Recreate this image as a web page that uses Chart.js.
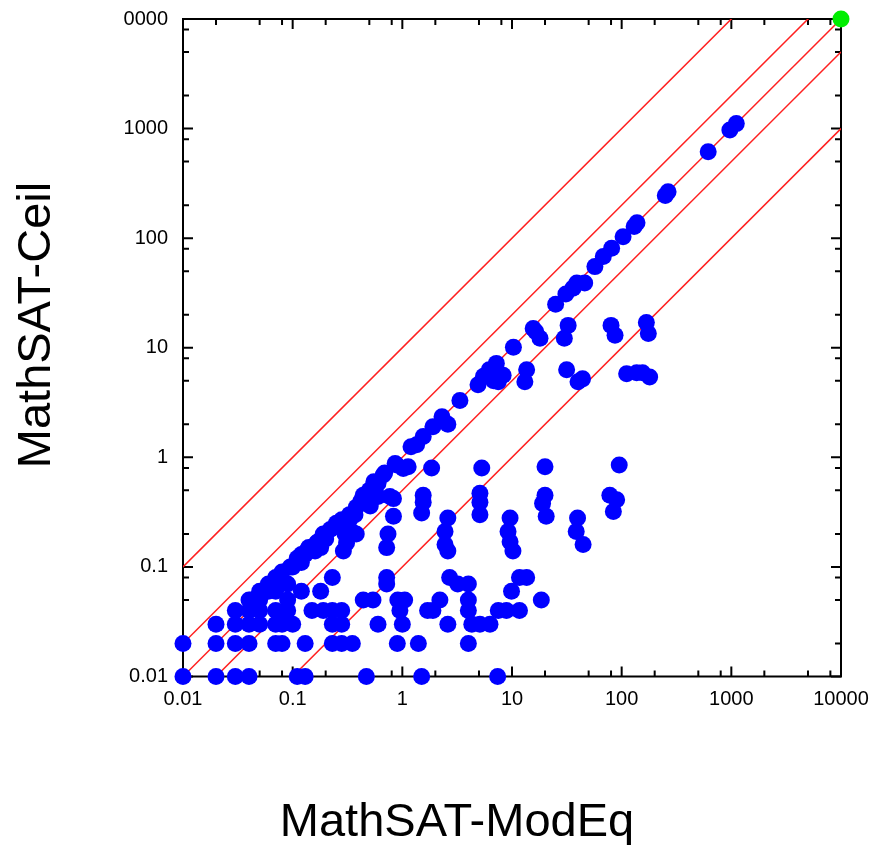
<!DOCTYPE html>
<html><head><meta charset="utf-8">
<script src="https://cdn.jsdelivr.net/npm/chart.js@4.4.1/dist/chart.umd.min.js"></script>
<style>html,body{margin:0;padding:0;background:#fff;overflow:hidden}canvas{display:block}</style>
</head><body>
<canvas id="c" width="876" height="845"></canvas>
<script>
const xTitle = 'MathSAT-ModEq';
const yTitle = 'MathSAT-Ceil';
const majorTicks = [0.01, 0.1, 1, 10, 100, 1000, 10000];
const xTickLabels = ['0.01', '0.1', '1', '10', '100', '1000', '10000'];
const yTickLabels = ['0.01', '0.1', '1', '10', '100', '1000', '0000'];
const minorMultipliers = [2, 5, 8];
const refFactors = [10, 2, 1, 0.5, 0.1];

// solved instances: time with ModEq (x) vs time with Ceil (y), seconds
const modEqTime = [
  0.01,0.02,0.03,0.04,0.11,0.13,0.47,1.5,7.4,
  0.01,0.02,0.03,0.04,0.07,0.08,0.13,0.23,0.28,0.35,0.9,1.4,4.0,
  0.02,0.03,0.04,0.05,0.07,0.08,0.1,0.23,0.28,0.6,1.0,2.6,4.3,5.1,6.3,
  0.03,0.04,0.05,0.07,0.09,0.15,0.19,0.23,0.28,0.95,1.7,1.9,4.0,7.5,8.9,11.7,
  0.04,0.05,0.09,0.44,0.54,0.91,1.05,2.2,4.0,18.5,
  0.05,0.06,0.07,0.12,0.18,9.9,0.06,0.09,0.72,3.2,4.0,0.07,0.23,0.72,2.7,11.7,13.6,0.08,
  0.095,0.1,0.11,0.12,0.13,0.134,0.16,0.165,0.18,0.19,0.2,0.22,0.25,0.28,0.29,0.3,0.345,0.38,0.74,0.72,
  0.33,0.37,0.38,0.42,0.44,0.51,0.5,0.55,0.77,0.83,0.6,0.67,0.69,0.86,0.89,1.02,1.13,1.2,1.35,1.55,
  1.9,2.3,2.6,3.35,4.9,5.5,6.2,7.2,6.8,8.3,7.5,10.3,13.6,13.1,15.6,16.5,18,25,31,30,
  32.5,31.5,36,39,46,40,44,57,68,81,80,87,103,111,137,130,138,155,168,175,180,250,265,615,970,1110,
  1.55,1.55,1.5,1.85,2.6,2.45,2.45,2.6,5.3,5.1,5.1,5.1,9.6,9.2,9.6,10.2,20,20,19,20.5,39.6,38.5,44.5,95,78,90,84,
  0.042,0.056,0.07,0.12,0.14,0.17,
  0.6,0.83,0.51,0.33,0.27,0.31
];
const ceilTime = [
  0.01,0.01,0.01,0.01,0.01,0.01,0.01,0.01,0.01,
  0.02,0.02,0.02,0.02,0.02,0.02,0.02,0.02,0.02,0.02,0.02,0.02,0.02,
  0.03,0.03,0.03,0.03,0.03,0.03,0.03,0.03,0.03,0.03,0.03,0.03,0.03,0.03,0.03,
  0.04,0.04,0.04,0.04,0.04,0.04,0.04,0.04,0.04,0.04,0.04,0.04,0.04,0.04,0.04,0.04,
  0.05,0.05,0.05,0.05,0.05,0.05,0.05,0.05,0.05,0.05,
  0.06,0.06,0.06,0.06,0.06,0.06,0.07,0.07,0.07,0.07,0.07,0.08,0.08,0.08,0.08,0.08,0.08,0.09,
  0.1,0.1,0.12,0.11,0.13,0.14,0.14,0.165,0.15,0.2,0.18,0.22,0.25,0.27,0.14,0.2,0.21,0.2,0.2,0.15,
  0.3,0.3,0.35,0.4,0.45,0.41,0.5,0.6,0.44,0.29,0.58,0.69,0.72,0.88,0.85,0.79,0.82,1.25,1.3,1.55,
  1.9,2.35,2.0,3.3,4.6,5.5,6.3,7.2,5.0,5.6,4.9,10.1,6.3,4.9,15,14,12.2,25,31,12.2,
  16,6.3,35,39,39,4.9,5.2,55,68,81,16,13,103,5.8,5.9,128,138,5.9,17,13.5,5.4,245,265,615,970,1110,
  0.45,0.39,0.31,0.8,0.28,0.21,0.16,0.14,0.8,0.47,0.39,0.3,0.28,0.21,0.17,0.14,0.82,0.45,0.38,0.29,0.28,0.21,0.16,0.85,0.45,0.41,0.32,
  0.05,0.06,0.075,0.13,0.15,0.17,
  0.44,0.42,0.36,0.27,0.23,0.165
];
// timed-out on both
const timeoutModEq = [10000];
const timeoutCeil = [10000];

const FONT = '"Liberation Sans", Arial, Helvetica, sans-serif';
Chart.defaults.font.family = FONT;
Chart.defaults.color = '#000';

const allTicks = [];
majorTicks.forEach(m => {
  allTicks.push(m);
  if (m < 10000) minorMultipliers.forEach(k => allTicks.push(Number((m * k).toPrecision(6))));
});
function isMajor(v) { return majorTicks.some(m => Math.abs(Math.log10(m) - Math.log10(v)) < 1e-6); }
function labelFor(v, labels) {
  const i = majorTicks.findIndex(m => Math.abs(Math.log10(m) - Math.log10(v)) < 1e-6);
  return i >= 0 ? labels[i] : '';
}

const points = modEqTime.map((x, i) => ({x: x, y: ceilTime[i]}));
const greenPts = timeoutModEq.map((x, i) => ({x: x, y: timeoutCeil[i]}));
const lo = majorTicks[0], hi = majorTicks[majorTicks.length - 1];
const refDatasets = refFactors.map(f => ({
  type: 'line',
  data: [{x: lo, y: lo * f}, {x: hi, y: hi * f}],
  borderColor: '#ff2020', backgroundColor: '#ff2020', borderWidth: 1.5,
  pointRadius: 0, pointHoverRadius: 0, order: 10, fill: false, tension: 0
}));

const framePlugin = {
  id: 'frame',
  beforeDatasetsDraw(chart) {
    const {ctx, chartArea: {left, right, top, bottom}, scales: {x, y}} = chart;
    ctx.save();
    ctx.strokeStyle = '#000';
    ctx.lineWidth = 2;
    ctx.beginPath();
    x.ticks.forEach(t => {
      const px = x.getPixelForValue(t.value);
      const len = isMajor(t.value) ? 10 : 6;
      ctx.moveTo(px, bottom); ctx.lineTo(px, bottom - len);
      ctx.moveTo(px, top); ctx.lineTo(px, top + len);
    });
    y.ticks.forEach(t => {
      const py = y.getPixelForValue(t.value);
      const len = isMajor(t.value) ? 10 : 6;
      ctx.moveTo(left, py); ctx.lineTo(left + len, py);
      ctx.moveTo(right, py); ctx.lineTo(right - len, py);
    });
    ctx.stroke();
    ctx.beginPath();
    ctx.rect(left, top, right - left, bottom - top);
    ctx.stroke();
    ctx.beginPath();
    ctx.restore();
  },
  afterDraw(chart) {
    const {ctx} = chart;
    ctx.save();
    ctx.fillStyle = '#000';
    ctx.font = '47px ' + FONT;
    ctx.textAlign = 'center';
    ctx.textBaseline = 'alphabetic';
    ctx.fillText(xTitle, 457, 836);
    ctx.translate(50, 325);
    ctx.rotate(-Math.PI / 2);
    ctx.fillText(yTitle, 0, 0);
    ctx.restore();
  }
};

new Chart(document.getElementById('c'), {
  type: 'scatter',
  data: {
    datasets: [
      {data: points, backgroundColor: '#0000ff', borderColor: '#0000ff', borderWidth: 0, pointRadius: 8.5, pointHoverRadius: 8.5, order: 0, clip: false},
      {data: greenPts, backgroundColor: '#00ee00', borderColor: '#00ee00', borderWidth: 0, pointRadius: 8.5, order: 0, clip: false},
      ...refDatasets
    ]
  },
  options: {
    responsive: false,
    animation: false,
    devicePixelRatio: 1,
    layout: {padding: {top: 19, right: 35, left: 0, bottom: 0}},
    plugins: {legend: {display: false}, tooltip: {enabled: false}, colors: {enabled: false}},
    scales: {
      x: {
        type: 'logarithmic', position: 'bottom', min: 0.01, max: 10000,
        grid: {display: false, drawTicks: false}, border: {display: false},
        afterBuildTicks: s => { s.ticks = allTicks.map(v => ({value: v, major: isMajor(v)})); },
        afterFit: s => { s.height = 168.5; s.paddingLeft = 0; s.paddingRight = 0; },
        ticks: {autoSkip: false, maxRotation: 0, minRotation: 0, padding: 11, font: {size: 20}, color: '#000',
          callback: v => labelFor(v, xTickLabels)}
      },
      y: {
        type: 'logarithmic', position: 'left', min: 0.01, max: 10000,
        grid: {display: false, drawTicks: false}, border: {display: false},
        afterBuildTicks: s => { s.ticks = allTicks.map(v => ({value: v, major: isMajor(v)})); },
        afterFit: s => { s.width = 183; s.paddingTop = 0; s.paddingBottom = 0; },
        ticks: {autoSkip: false, padding: 15, font: {size: 20}, color: '#000',
          callback: v => labelFor(v, yTickLabels)}
      }
    }
  },
  plugins: [framePlugin]
});
</script>
</body></html>
